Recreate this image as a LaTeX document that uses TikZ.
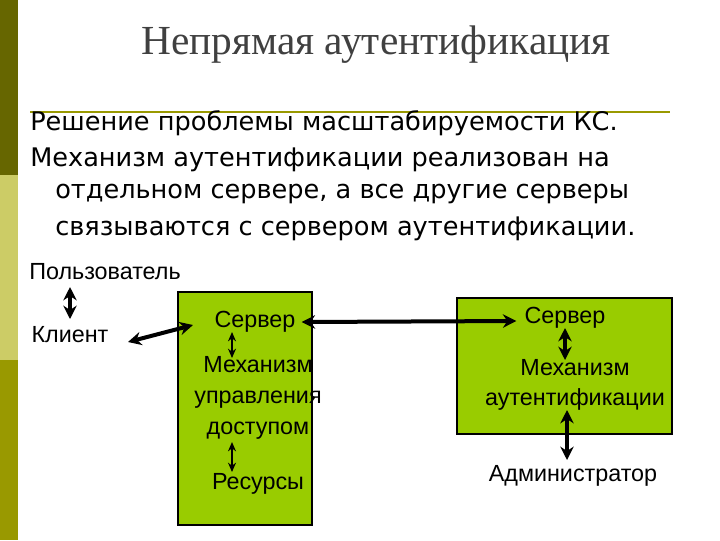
\documentclass[tikz,border=0pt]{standalone}
\usepackage{fontspec}
\setmainfont{Liberation Serif}
\newfontfamily\bodyf{DejaVu Sans}
\newfontfamily\arialf{Liberation Sans}
\usetikzlibrary{arrows.meta,calc}
\definecolor{oliveA}{HTML}{666600}
\definecolor{oliveB}{HTML}{CCCC66}
\definecolor{oliveC}{HTML}{999900}
\definecolor{boxg}{HTML}{99CC00}
\tikzset{
 body/.style={anchor=west,inner sep=0pt,font=\bodyf\fontsize{19.2}{22}\selectfont},
 lbl/.style={inner sep=0pt,font=\arialf\fontsize{17.5}{21}\selectfont,align=center},
 gbox/.style={draw=black,fill=boxg,line width=0.8pt},
 dbl/.style={{Stealth[length=10pt,width=10pt]}-{Stealth[length=10pt,width=10pt]},line width=3pt},
 dbls/.style={{Stealth[length=7pt,width=6pt]}-{Stealth[length=7pt,width=6pt]},line width=2pt}
}
\begin{document}
\begin{tikzpicture}[x=0.75pt,y=-0.75pt]
\useasboundingbox (0,0) rectangle (720,540);
\fill[white] (0,0) rectangle (720,540);
\fill[oliveA] (0,0) rectangle (18,175);
\fill[oliveB] (0,175) rectangle (18,360);
\fill[oliveC] (0,360) rectangle (18,540);
\node[font=\fontsize{31}{34}\selectfont,text=black!75] (title) at (376,45) {Непрямая аутентификация};
\draw[oliveC,line width=1pt] (30,112) -- (670,112);
\node[body] (l1) at (30,123) {Решение проблемы масштабируемости КС.};
\node[body] (l2) at (30,160) {Механизм аутентификации реализован на};
\node[body] (l3) at (55,194) {отдельном сервере, а все другие серверы};
\node[body] (l4) at (55,229) {связываются с сервером аутентификации.};
\node[gbox,minimum width=134pt*0.75,minimum height=233pt*0.75] (b1) at (245,408.5) {};
\node[gbox,minimum width=215pt*0.75,minimum height=136pt*0.75] (b2) at (564.5,366) {};
\node[lbl] (user) at (105,272) {Пользователь};
\node[lbl] (client) at (70,335) {Клиент};
\node[lbl] (s1) at (255,322) {Сервер};
\node[lbl] (m1) at (258,398) {Механизм\\[2pt]управления\\[2pt]доступом};
\node[lbl] (r1) at (258,484) {Ресурсы};
\node[lbl] (s2) at (565,318) {Сервер};
\node[lbl] (m2) at (575,385) {Механизм\\[2pt]аутентификации};
\node[lbl] (adm) at (573,476) {Администратор};
\coordinate (a1) at (70,287);
\coordinate (a2) at (70,319);
\draw[dbl] (a1) -- (a2);
\coordinate (c1) at (128,342);
\coordinate (c2) at (193,325);
\draw[dbl] (c1) -- (c2);
\draw[dbl] ($(s1.east)+(6,0)$) -- ($(s2.west)+(-8,3)$);
\draw[dbls] (232,332) -- (232,358);
\draw[dbls] (232,442) -- (232,472);
\draw[dbl] (565,328) -- (565,360);
\draw[dbl] (567,410) -- (567,460);
\end{tikzpicture}
\end{document}
